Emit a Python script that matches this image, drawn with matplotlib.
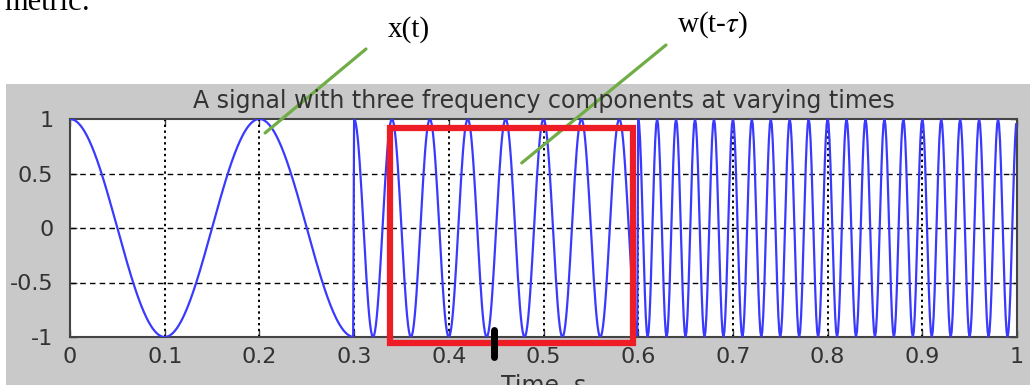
"""Сигнал с тремя частотными компонентами и окно w(t-tau) поверх него."""

import matplotlib

matplotlib.use("Agg")

import matplotlib.pyplot as plt  # noqa: E402
import numpy as np  # noqa: E402
from matplotlib.patches import Rectangle  # noqa: E402

# Участки сигнала: начало, конец (с) и частота (Гц)
seg_start = [0.0, 0.3, 0.6]
seg_end = [0.3, 0.6, 1.0]
seg_freq = [5, 25, 50]
fs = 1000  # частота дискретизации

# Окно w(t-tau) и отметка tau
win_t = [0.338, 0.5945]
win_y = [-1.055, 0.917]
tau_mark_t = 0.448
tau_mark_y = [-1.183, -0.936]

x_ticks = [0, 0.1, 0.2, 0.3, 0.4, 0.5, 0.6, 0.7, 0.8, 0.9, 1]
x_labels = ["0", "0.1", "0.2", "0.3", "0.4", "0.5", "0.6", "0.7", "0.8", "0.9", "1"]
y_ticks = [-1, -0.5, 0, 0.5, 1]
y_labels = ["-1", "-0.5", "0", "0.5", "1"]

title = "A signal with three frequency components at varying times"
xlabel = "Time, s"

GREY = "#c9c9c9"
BLUE = "#3a3aff"
RED = "#ee1c24"
GREEN = "#70ad47"

plt.rcParams["mathtext.fontset"] = "stix"

W, H = 1030, 385
fig = plt.figure(figsize=(W / 100, H / 100), dpi=100)
fig.patch.set_facecolor("white")

# Серая подложка окна MATLAB
fig.patches.append(
    Rectangle((6 / W, 0), 1 - 6 / W, (H - 84) / H, transform=fig.transFigure,
              facecolor=GREY, edgecolor="none", zorder=-10)
)

ax = fig.add_axes([70 / W, (H - 337) / H, 947 / W, 218 / H])
ax.set_zorder(1)
ax.set_facecolor("white")

# Собираем сигнал по участкам (локальное время внутри участка)
t_all, x_all = [], []
for t0, t1, f in zip(seg_start, seg_end, seg_freq):
    t = np.arange(t0, t1, 1 / fs)
    t_all.append(t)
    x_all.append(np.cos(2 * np.pi * f * (t - t0)))
t_all = np.concatenate(t_all)
x_all = np.concatenate(x_all)

ax.plot(t_all, x_all, color=BLUE, lw=1.6, zorder=3)

ax.set_xlim(0, 1)
ax.set_ylim(-1, 1)
ax.set_xticks(x_ticks, labels=x_labels)
ax.set_yticks(y_ticks, labels=y_labels)

# Сетка: вертикальные пунктиром из точек, горизонтальные штрихами
for xv in x_ticks[1:-1]:
    ax.axvline(xv, color="black", lw=1.4, ls=(0, (1.2, 1.8)), zorder=2)
for yv in y_ticks[1:-1]:
    ax.axhline(yv, color="black", lw=1.0, ls=(0, (4, 3)), zorder=2)

for sp in ax.spines.values():
    sp.set_color("#444444")
    sp.set_linewidth(1.5)

ax.tick_params(direction="in", length=5, width=1, colors="#444444",
               labelcolor="#333333", labelsize=16, top=True, right=True)
ax.tick_params(axis="x", pad=7)
ax.tick_params(axis="y", pad=12)

ax.set_title(title, fontsize=17, color="#333333", pad=8)
ax.set_xlabel(xlabel, fontsize=17, color="#333333", labelpad=5)

# Красное окно
ax.add_patch(Rectangle((win_t[0], win_y[0]), win_t[1] - win_t[0], win_y[1] - win_y[0],
                       fill=False, edgecolor=RED, lw=4.5, clip_on=False, zorder=5))
ax.plot([tau_mark_t, tau_mark_t], tau_mark_y, color="black", lw=5,
        solid_capstyle="round", clip_on=False, zorder=6)

# Подписи x(t), w(t-tau) и зелёные линии-указатели
serif = ["Liberation Serif", "DejaVu Serif"]
fig.text(409 / W, 1 - 30 / H, "x(t)", family=serif, fontsize=21,
         ha="center", va="center")
fig.text(712 / W, 1 - 25 / H, r"w(t-$\tau$)", family=serif, fontsize=21,
         ha="center", va="center")
ax.annotate("", xy=(0.206, 0.872), xycoords="data",
            xytext=(366, H - 49), textcoords="figure pixels",
            arrowprops=dict(arrowstyle="-", color=GREEN, lw=2.3, shrinkA=0, shrinkB=0),
            annotation_clip=False)
ax.annotate("", xy=(0.477, 0.597), xycoords="data",
            xytext=(666, H - 45), textcoords="figure pixels",
            arrowprops=dict(arrowstyle="-", color=GREEN, lw=2.3, shrinkA=0, shrinkB=0),
            annotation_clip=False)

# Обрезанный край текста документа сверху
fig.text(4 / W, 1 - 10 / H, "metric:", family=serif, fontsize=22, ha="left", va="baseline")

fig.savefig("out.png", dpi=100)
plt.close(fig)
